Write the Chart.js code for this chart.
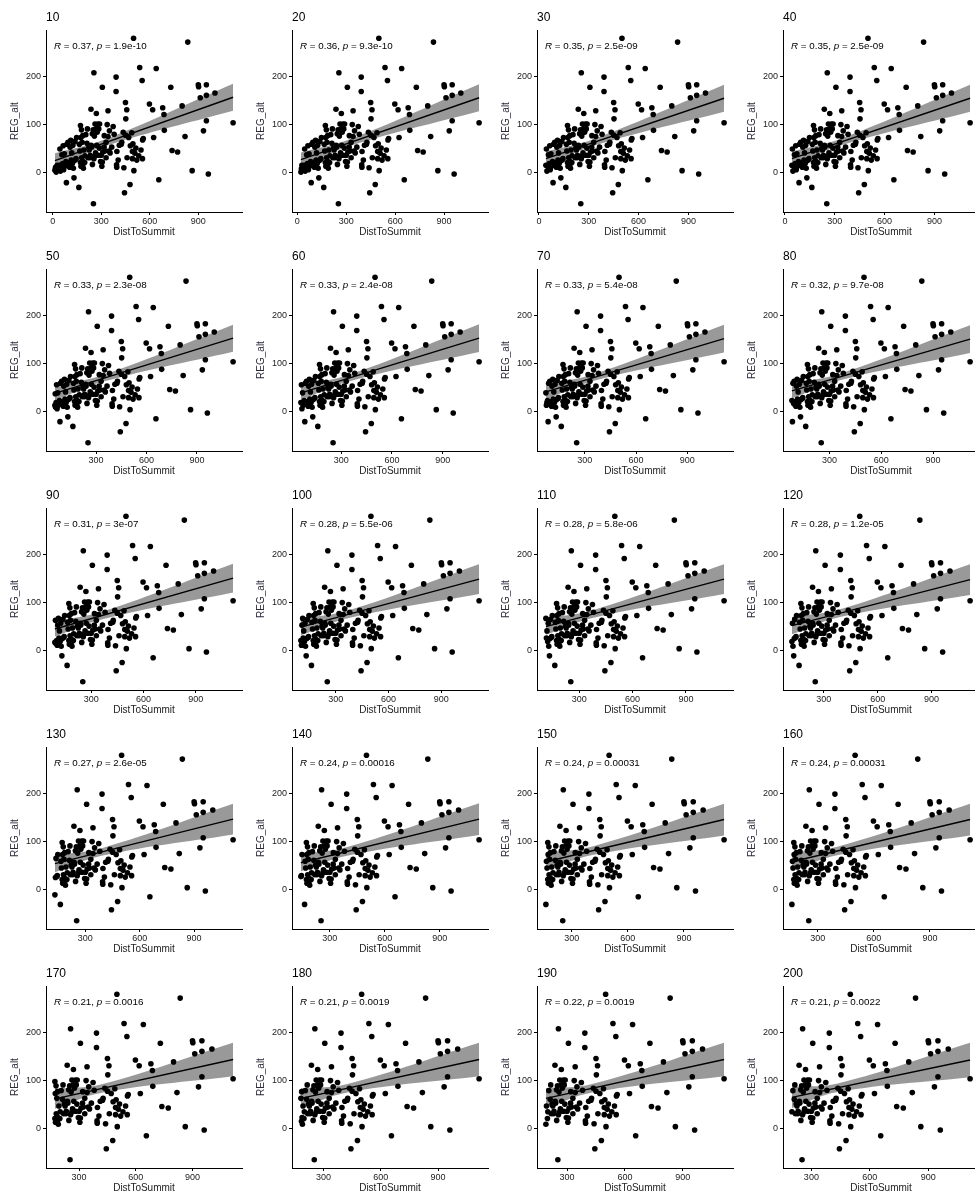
<!doctype html>
<html>
<head>
<meta charset="utf-8" />
<title>REG_alt vs DistToSummit</title>
<script src="https://cdn.jsdelivr.net/npm/chart.js@4.4.0/dist/chart.umd.min.js"></script>
<style>
body { margin:0; background:#fff; width:975px; height:1195px; overflow:hidden; position:relative; }
.panel { position:absolute; width:246px; height:239px; }
</style>
</head>
<body>
<script>
// minimum DistToSummit used for each panel
var thresholds = [10, 20, 30, 40, 50, 60, 70, 80, 90, 100, 110, 120, 130, 140, 150, 160, 170, 180, 190, 200];
var rValues = ['0.37','0.36','0.35','0.35','0.33','0.33','0.33','0.32','0.31','0.28','0.28','0.28','0.27','0.24','0.24','0.24','0.21','0.21','0.22','0.21'];
var pValues = ['1.9e-10','9.3e-10','2.5e-09','2.5e-09','2.3e-08','2.4e-08','5.4e-08','9.7e-08','3e-07','5.5e-06','5.8e-06','1.2e-05','2.6e-05','0.00016','0.00031','0.00031','0.0016','0.0019','0.0019','0.0022'];

// all observations (x = DistToSummit, y = REG_alt)
var distToSummit = [
  500, 835, 255, 538, 640, 392, 553, 307, 392, 730, 900, 902, 950, 1003, 912, 950, 450, 598, 618, 458,
  342, 237, 270, 680, 800, 688, 452, 950, 1115, 932, 690, 818, 624, 738, 772, 862, 962, 656, 478, 444, 252,
  337, 374, 424, 450, 436, 489, 496, 493, 427, 397, 351, 319, 342, 380, 304, 307, 396, 440, 502, 493,
  555, 532, 546, 556, 560, 514, 508, 470, 412, 365, 330, 318, 310, 348, 355, 322, 300, 290, 285, 480,
  520, 460, 405, 395, 330,
  172, 178, 174, 182, 179, 188, 175, 186, 193, 172, 190, 185, 198, 205, 215, 222, 230, 238, 245, 250,
  258, 262, 270, 275, 280, 272, 288, 232, 246, 262, 282, 296, 226, 212, 240, 218, 200, 265, 255,
  14, 18, 22, 25, 28, 42, 45, 48, 55, 57, 59, 62, 65, 68, 72, 75, 78, 82, 85, 88,
  92, 95, 98, 102, 105, 108, 112, 115, 118, 122, 125, 128, 132, 135, 138, 142, 145, 148, 162, 165, 168
];
var regAlt = [
  279, 271, 207, 218, 216, 198, 191, 177, 168, 177, 182, 178, 182, 165, 155, 160, 145, 142, 130, 130,
  128, 131, 122, 134, 138, 120, 111, 107, 103, 86, 87, 74, 72, 45, 42, 3, -4, -16, -26, -43, -66,
  99, 95, 58, 77, 83, 82, 59, 43, 62, 43, 86, 76, 74, 79, 12, 21, 10, 9, 3, 28,
  28, 34, 46, 67, 70, 50, 39, 72, 56, 52, 62, 52, 42, 44, 40, 44, 35, 100, 90, 55,
  25, 30, 25, 15, 30,
  97, 88, 72, 62, 30, 22, 12, 76, 46, 20, 8, 14, 20, 78, 90, 50, 30, 56, 80, 88,
  75, 100, 90, 83, 100, 56, 50, 35, 16, 34, 35, 22, 46, 60, 52, 30, 34, 40, 28,
  4, 10, 0, 7, 14, 14, 48, 2, 12, 36, 8, 18, 55, 5, 38, 12, 18, 22, -22, 58,
  16, 62, 14, 20, 10, 52, 66, 25, 40, 18, 56, 8, -12, 24, 64, 26, 28, 72, -32, 58, 44
];

// regression line and confidence band
var fitStart = [24, 26, 28, 28, 37, 38, 40, 42, 44, 48, 49, 51, 53, 55, 57, 57, 61, 62, 62, 64];
var fitEnd   = [156, 155, 154, 154, 152, 152, 151, 150, 150, 148, 148, 147, 146, 146, 145, 145, 143, 143, 143, 142];
var ciStart  = [15, 15, 15, 15, 15, 15, 16, 16, 16, 17, 17, 18, 18, 18, 19, 19, 21, 21, 21, 22];
var ciMid    = [7, 7, 7, 7, 7, 7, 7, 7, 8, 8, 8, 8, 8, 9, 9, 9, 9, 9, 9, 9];
var ciEnd    = [28, 28, 28, 28, 28, 29, 29, 29, 30, 31, 31, 32, 32, 33, 33, 33, 35, 35, 35, 36];
var ciMidX   = [330, 335, 340, 340, 350, 355, 360, 365, 370, 380, 385, 390, 395, 400, 410, 410, 420, 425, 430, 435];

var xTicks = [0, 300, 600, 900];
var yTicks = [0, 100, 200];

var FONT = '"Liberation Sans", Arial, sans-serif';

var labelPlugin = {
  id: 'panelLabels',
  afterDraw: function(chart, args, opts) {
    var ctx = chart.ctx;
    ctx.save();
    ctx.fillStyle = '#000';
    ctx.textBaseline = 'middle';
    ctx.textAlign = 'left';
    ctx.font = '12px ' + FONT;
    ctx.fillText(opts.title, 46, 18);
    var x = 54;
    var parts = [['R', true], [' = ' + opts.r + ', ', false], ['p', true], [' = ' + opts.p, false]];
    parts.forEach(function(pt) {
      ctx.font = (pt[1] ? 'italic ' : '') + '9.8px ' + FONT;
      ctx.fillText(pt[0], x, 46);
      x += ctx.measureText(pt[0]).width;
    });
    ctx.restore();
  }
};

function axisBase() {
  return {
    grid: { display: true, drawOnChartArea: false, drawTicks: true, tickLength: 3, color: '#000' },
    border: { display: true, color: '#000', width: 1 }
  };
}

thresholds.forEach(function(t, i) {
  var col = i % 4, row = Math.floor(i / 4);
  var div = document.createElement('div');
  div.className = 'panel';
  div.style.left = Math.round(col * 245.5) + 'px';
  div.style.top = Math.round(row * 239) + 'px';
  var cv = document.createElement('canvas');
  cv.width = 246; cv.height = 239;
  div.appendChild(cv);
  document.body.appendChild(div);

  var pts = [];
  for (var k = 0; k < distToSummit.length; k++) {
    if (distToSummit[k] >= t) pts.push({ x: distToSummit[k], y: regAlt[k] });
  }
  var xs = pts.map(function(p) { return p.x; });
  var ys = pts.map(function(p) { return p.y; });
  var x0 = Math.min.apply(null, xs), x1 = Math.max.apply(null, xs);
  var y0 = Math.min.apply(null, ys), y1 = Math.max.apply(null, ys);
  var xr = x1 - x0, yr = y1 - y0;

  var mx = ciMidX[i];
  var ym = fitStart[i] + (fitEnd[i] - fitStart[i]) * (mx - x0) / (x1 - x0);

  var xAxis = axisBase();
  xAxis.type = 'linear';
  xAxis.min = x0 - 0.05 * xr;
  xAxis.max = x1 + 0.05 * xr;
  xAxis.afterBuildTicks = function(s) {
    s.ticks = xTicks.filter(function(v) { return v >= s.min && v <= s.max; }).map(function(v) { return { value: v }; });
  };
  xAxis.afterFit = function(s) { s.height = 27; };
  xAxis.ticks = { font: { family: FONT, size: 9 }, color: '#222', padding: 1, maxRotation: 0, autoSkip: false };
  xAxis.title = { display: true, text: 'DistToSummit', font: { family: FONT, size: 10 }, color: '#222', padding: { top: 0, bottom: 1 } };

  var yAxis = axisBase();
  yAxis.type = 'linear';
  yAxis.min = y0 - 0.05 * yr;
  yAxis.max = y1 + 0.05 * yr;
  yAxis.afterBuildTicks = function(s) {
    s.ticks = yTicks.map(function(v) { return { value: v }; });
  };
  yAxis.afterFit = function(s) { s.width = 46; };
  yAxis.ticks = { font: { family: FONT, size: 9 }, color: '#222', padding: 2 };
  yAxis.title = { display: true, text: 'REG_alt', font: { family: FONT, size: 10 }, color: '#2a2a3a', padding: { top: 9, bottom: 0 } };

  new Chart(cv, {
    type: 'scatter',
    data: {
      datasets: [
        { data: [{ x: x0, y: fitStart[i] }, { x: x1, y: fitEnd[i] }], showLine: true, borderColor: '#000', borderWidth: 1.4, pointRadius: 0 },
        { data: [{ x: x0, y: fitStart[i] - ciStart[i] }, { x: mx, y: ym - ciMid[i] }, { x: x1, y: fitEnd[i] - ciEnd[i] }],
          showLine: true, borderWidth: 0, pointRadius: 0, tension: 0.4, fill: false },
        { data: [{ x: x0, y: fitStart[i] + ciStart[i] }, { x: mx, y: ym + ciMid[i] }, { x: x1, y: fitEnd[i] + ciEnd[i] }],
          showLine: true, borderWidth: 0, pointRadius: 0, tension: 0.4, fill: '-1', backgroundColor: 'rgba(0,0,0,0.4)' },
        { data: pts, backgroundColor: '#000', borderWidth: 0, pointRadius: 2.8 }
      ]
    },
    options: {
      responsive: false,
      animation: false,
      devicePixelRatio: 1,
      layout: { padding: { left: 0, right: 1, top: 30, bottom: 0 } },
      scales: { x: xAxis, y: yAxis },
      plugins: {
        legend: { display: false },
        tooltip: { enabled: false },
        panelLabels: { title: String(t), r: rValues[i], p: pValues[i] }
      }
    },
    plugins: [labelPlugin]
  });
});
</script>
</body>
</html>
